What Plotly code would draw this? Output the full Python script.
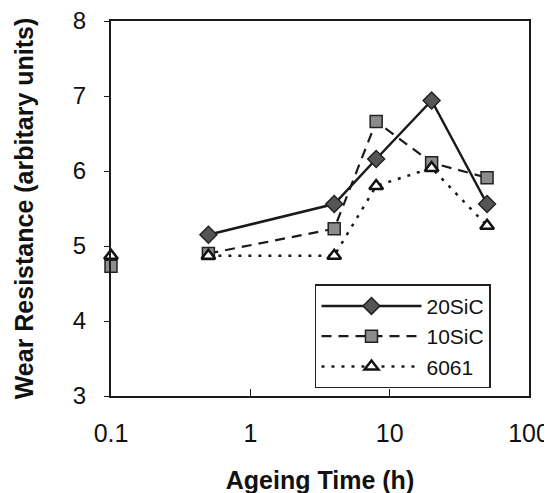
import plotly.graph_objects as go

# Ageing times (h)
times = [0.5, 4, 8, 20, 50]
sic20 = [5.15, 5.56, 6.16, 6.94, 5.56]
sic10 = [4.90, 5.23, 6.66, 6.11, 5.91]
al6061 = [4.87, 4.87, 5.80, 6.04, 5.27]

# As-quenched values (plotted without connecting line)
t0 = [0.1]
sic10_0 = [4.73]
al6061_0 = [4.87]

series_names = ["20SiC", "10SiC", "6061"]
xticks = [0.1, 1, 10, 100]
yticks = [3, 4, 5, 6, 7, 8]

fig = go.Figure()

line_col = "#1a1a1a"
fig.add_trace(go.Scatter(x=times, y=sic20, name=series_names[0], mode="lines+markers",
                         line=dict(color=line_col, width=2.5, dash="solid"),
                         marker=dict(symbol="diamond", size=13, color="#555555",
                                     line=dict(color="#222222", width=1.5))))
fig.add_trace(go.Scatter(x=times, y=sic10, name=series_names[1], mode="lines+markers",
                         line=dict(color=line_col, width=2.2, dash="10px,7px"),
                         marker=dict(symbol="square", size=12, color="#8c8c8c",
                                     line=dict(color="#222222", width=1.5))))
fig.add_trace(go.Scatter(x=times, y=al6061, name=series_names[2], mode="lines+markers",
                         line=dict(color=line_col, width=2.5, dash="3px,7px"),
                         marker=dict(symbol="triangle-up", size=12, color="white",
                                     line=dict(color="#111111", width=2.5))))
fig.add_trace(go.Scatter(x=t0, y=sic10_0, mode="markers", showlegend=False, cliponaxis=False,
                         marker=dict(symbol="square", size=12, color="#8c8c8c",
                                     line=dict(color="#222222", width=1.5))))
fig.add_trace(go.Scatter(x=t0, y=al6061_0, mode="markers", showlegend=False, cliponaxis=False,
                         marker=dict(symbol="triangle-up", size=12, color="white",
                                     line=dict(color="#111111", width=2.5))))

font_family = "Liberation Sans, Arial, sans-serif"
# page body adds an 8px offset; figure is sized so the plot area lands in place
fig.update_layout(
    width=544, height=486,
    margin=dict(l=103, r=23, t=13, b=98),
    paper_bgcolor="white", plot_bgcolor="white",
    font=dict(family=font_family, color="#111111"),
    showlegend=True,
    legend=dict(x=0.488, y=0.298, xanchor="left", yanchor="top",
                bordercolor="#222222", borderwidth=1.5, bgcolor="white",
                font=dict(size=21, family=font_family, color="#111111"),
                itemwidth=100, tracegroupgap=0),
)
fig.update_xaxes(type="log", range=[-1, 2], tickvals=xticks,
                 ticktext=[str(v) for v in xticks], automargin=False,
                 ticklabeloverflow="allow",
                 showgrid=False, zeroline=False, showline=True, mirror=True,
                 linecolor="#1a1a1a", linewidth=2,
                 ticks="inside", ticklen=7, tickwidth=1.2, tickcolor="#1a1a1a",
                 tickfont=dict(size=25, family=font_family), ticklabelstandoff=14,
                 title=dict(text="<b>Ageing Time (h)</b>", font=dict(size=25, family=font_family),
                            standoff=30))
fig.update_yaxes(range=[3, 8], tickvals=yticks, automargin=False,
                 ticklabeloverflow="allow",
                 showgrid=False, zeroline=False, showline=True, mirror=True,
                 linecolor="#1a1a1a", linewidth=2,
                 ticks="outside", ticklen=5, tickwidth=1.2, tickcolor="#1a1a1a",
                 tickfont=dict(size=24, family=font_family), ticklabelstandoff=13,
                 title=dict(text="<b>Wear Resistance (arbitary units)</b>",
                            font=dict(size=25, family=font_family), standoff=32))

fig.write_html("out.html")
